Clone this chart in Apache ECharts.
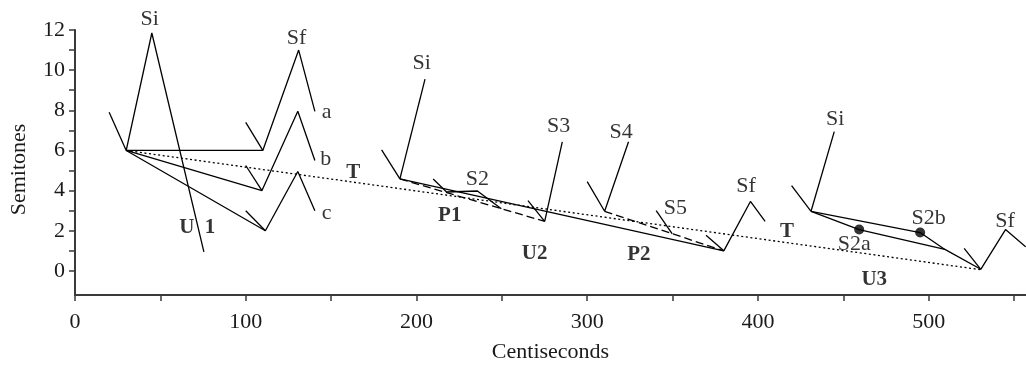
<!DOCTYPE html>
<html>
<head>
<meta charset="utf-8">
<script src="https://cdn.jsdelivr.net/npm/echarts@6/dist/echarts.min.js"></script>
<style>
  html, body { margin: 0; padding: 0; background: #fff; }
  #chart { width: 1026px; height: 368px; }
</style>
</head>
<body>
<div id="chart"></div>
<script>
// Axis ticks and labels
const xTicks = [0, 50, 100, 150, 200, 250, 300, 350, 400, 450, 500, 550];
const xLabels = [0, 100, 200, 300, 400, 500];
const yTicks = [0, 1, 2, 3, 4, 5, 6, 7, 8, 9, 10, 11, 12];
const yLabels = [0, 2, 4, 6, 8, 10, 12];

// Utterance 1: initial rise and three final variants (a, b, c)
const u1Lead = [[20, 7.9], [30, 6]];
const u1Si = [[30, 6], [45, 11.85], [75.5, 0.95]];
const u1A = [[30, 6], [110, 6], [131, 11], [140.5, 7.95]];
const u1ALead = [[100, 7.4], [110, 6]];
const u1B = [[30, 6], [109.5, 4], [130.5, 7.95], [140.5, 5.5]];
const u1BLead = [[100, 5.25], [109.5, 4]];
const u1C = [[30, 6], [111.5, 2], [130.5, 4.95], [140.5, 3]];
const u1CLead = [[100, 3], [111.5, 2]];

// Global declination trend T (dotted)
const trendT = [[30, 6], [530.5, 0.06]];

// Utterance 2
const u2Lead = [[179.6, 6.03], [190.3, 4.58]];
const u2Si = [[190.3, 4.58], [205, 9.55]];
const u2Base = [[190.3, 4.58], [380, 1.0]];
const u2S2 = [[209.8, 4.58], [217.6, 3.93], [235.7, 3.98], [249.7, 3.1]];
const u2P1 = [[190.3, 4.58], [275.1, 2.47]];
const u2S3 = [[265.3, 3.5], [275.1, 2.47], [285.4, 6.43]];
const u2S4 = [[300, 4.45], [310.2, 2.97], [324.2, 6.43]];
const u2P2 = [[310.2, 2.97], [380, 1.0]];
const u2S5 = [[340.4, 3.0], [349.8, 1.84]];
const u2EndLead = [[369.6, 1.78], [380, 1.0]];
const u2Sf = [[380, 1.0], [395.6, 3.46], [404.2, 2.47]];

// Utterance 3
const u3Lead = [[419.7, 4.25], [431.1, 2.97]];
const u3Si = [[431.1, 2.97], [444.7, 6.94]];
const u3Upper = [[431.1, 2.97], [495, 1.91], [509.5, 1.07], [530.5, 0.08]];
const u3Lower = [[431.1, 2.97], [459.3, 2.06], [509.5, 1.07]];
const u3EndLead = [[520.8, 1.12], [530.5, 0.08]];
const u3Sf = [[530.5, 0.08], [545, 2.06], [556.8, 1.2]];
const u3Dots = [[459.3, 2.06], [495, 1.91]];

// Text annotations: [x, y, text]
const plainNotes = [
  [43.7, 12.55, 'Si'], [129.8, 11.6, 'Sf'], [147.4, 7.88, 'a'], [146.8, 5.54, 'b'], [147.4, 2.85, 'c'],
  [203, 10.37, 'Si'], [235.7, 4.55, 'S2'], [283.3, 7.22, 'S3'], [319.9, 6.89, 'S4'], [351.7, 3.13, 'S5'],
  [393, 4.2, 'Sf'], [445.3, 7.55, 'Si'], [499.9, 2.61, 'S2b'], [456.4, 1.34, 'S2a'], [544.7, 2.47, 'Sf']
];
const boldNotes = [
  [65.5, 2.16, 'U'], [79.1, 2.16, '1'], [163, 4.92, 'T'], [219.5, 2.77, 'P1'], [269.2, 0.88, 'U2'],
  [330.3, 0.79, 'P2'], [417, 1.95, 'T'], [468.1, -0.45, 'U3']
];

const FONT = '"Liberation Serif", "DejaVu Serif", serif';

function lineSeries(data, type) {
  return {
    type: 'line',
    data: data,
    symbol: 'none',
    silent: true,
    clip: false,
    lineStyle: { color: '#000', width: 1.3, type: type || 'solid' }
  };
}

function noteSeries(notes, bold, size) {
  return {
    type: 'scatter',
    symbolSize: 0,
    clip: false,
    silent: true,
    data: notes.map(n => ({ value: [n[0], n[1]], name: n[2] })),
    label: {
      show: true,
      position: 'inside',
      formatter: '{b}',
      color: '#000',
      fontFamily: FONT,
      fontSize: size,
      fontWeight: bold ? 'bold' : 'normal'
    }
  };
}

const series = [
  lineSeries(u1Lead), lineSeries(u1Si),
  lineSeries(u1A), lineSeries(u1ALead),
  lineSeries(u1B), lineSeries(u1BLead),
  lineSeries(u1C), lineSeries(u1CLead),
  lineSeries(trendT, [2, 2.6]),
  lineSeries(u2Lead), lineSeries(u2Si), lineSeries(u2Base), lineSeries(u2S2),
  lineSeries(u2P1, [8, 4]), lineSeries(u2S3), lineSeries(u2S4),
  lineSeries(u2P2, [8, 4]), lineSeries(u2S5), lineSeries(u2EndLead), lineSeries(u2Sf),
  lineSeries(u3Lead), lineSeries(u3Si), lineSeries(u3Upper), lineSeries(u3Lower),
  lineSeries(u3EndLead), lineSeries(u3Sf),
  {
    type: 'scatter',
    data: u3Dots,
    symbol: 'circle',
    symbolSize: 10,
    silent: true,
    itemStyle: { color: '#000' }
  },
  noteSeries(plainNotes, false, 22),
  noteSeries(boldNotes, true, 21)
];

const axisColor = '#3a3a3a';

const chart = echarts.init(document.getElementById('chart'), null, { renderer: 'canvas' });
chart.setOption({
  animation: false,
  backgroundColor: '#fff',
  grid: { left: 73, right: 0, top: 30, bottom: 71 },
  xAxis: {
    type: 'value',
    min: 0,
    max: 557,
    name: 'Centiseconds',
    nameLocation: 'middle',
    nameGap: 46,
    nameTextStyle: { fontFamily: FONT, fontSize: 22, color: '#1a1a1a' },
    splitLine: { show: false },
    axisLine: { show: true, onZero: false, lineStyle: { color: axisColor, width: 2 } },
    axisTick: { show: true, inside: false, length: 6, customValues: xTicks, lineStyle: { color: axisColor, width: 1.5 } },
    axisLabel: { customValues: xLabels, margin: 16, fontFamily: FONT, fontSize: 22, color: '#1a1a1a' }
  },
  yAxis: {
    type: 'value',
    min: -1.2,
    max: 12,
    name: 'Semitones',
    nameLocation: 'middle',
    nameGap: 45,
    nameTextStyle: { fontFamily: FONT, fontSize: 22, color: '#1a1a1a', padding: [0, 14, 0, 0] },
    splitLine: { show: false },
    axisLine: { show: true, onZero: false, lineStyle: { color: axisColor, width: 2 } },
    axisTick: { show: true, inside: false, length: 6, customValues: yTicks, lineStyle: { color: axisColor, width: 1.5 } },
    axisLabel: { customValues: yLabels, margin: 10, fontFamily: FONT, fontSize: 22, color: '#1a1a1a' }
  },
  series: series
});
</script>
</body>
</html>
